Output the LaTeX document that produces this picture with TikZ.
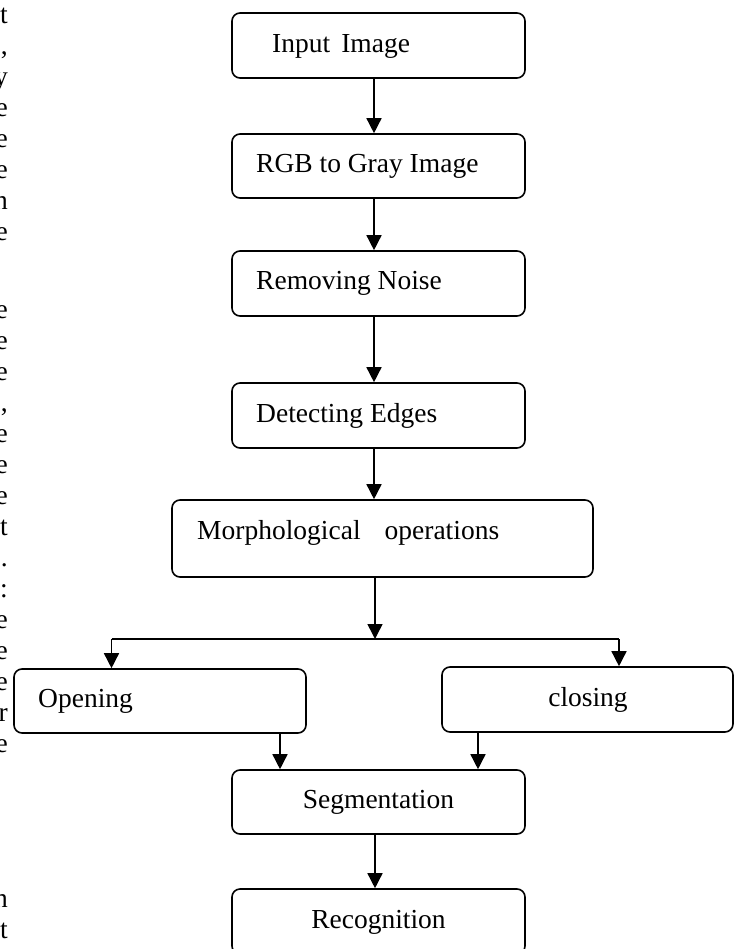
\documentclass[tikz,border=0pt]{standalone}
\usepackage{fontspec}
\setmainfont{Liberation Serif}
\usetikzlibrary{arrows.meta}
\begin{document}
\begin{tikzpicture}[x=1pt,y=-1pt,
  box/.style={draw, line width=1.6pt, rounded corners=8pt, inner sep=0pt},
  lbl/.style={font=\fontsize{27.5}{31}\selectfont, inner sep=0pt},
  arr/.style={line width=1.5pt, -{Triangle[width=15pt,length=15pt]}},
  conn/.style={line width=1.5pt},
  frag/.style={font=\fontsize{27.5}{31}\selectfont, inner sep=0pt, anchor=base east}]
\useasboundingbox (0,0) rectangle (736,949);
% boxes
\node[box, minimum width=293pt, minimum height=65pt] (inp) at (378.5,45.5) {};
\node[box, minimum width=293pt, minimum height=64pt] (rgb) at (378.5,166) {};
\node[box, minimum width=293pt, minimum height=65pt] (rem) at (378.5,283.5) {};
\node[box, minimum width=293pt, minimum height=65pt] (det) at (378.5,415.5) {};
\node[box, minimum width=421pt, minimum height=77pt] (mor) at (382.5,538.5) {};
\node[box, minimum width=292pt, minimum height=64pt] (ope) at (160,701) {};
\node[box, minimum width=291pt, minimum height=65pt] (clo) at (587.5,699.5) {};
\node[box, minimum width=293pt, minimum height=64pt] (seg) at (378.5,802) {};
\node[box, minimum width=293pt, minimum height=65pt] (rec) at (378.5,921.5) {};
% labels
\node[lbl, anchor=base west] (tinp) at (272,53) {Input\hspace{11pt}Image};
\node[lbl, anchor=base west] (trgb) at (256,173) {RGB to Gray Image};
\node[lbl, anchor=base west] (trem) at (256,289) {Removing Noise};
\node[lbl, anchor=base west] (tdet) at (256,422) {Detecting Edges};
\node[lbl, anchor=base west] (tmor) at (197,539) {Morphological\hspace{24pt}operations};
\node[lbl, anchor=base west] (tope) at (38,707) {Opening};
\node[lbl, anchor=base] (tclo) at (588,706) {closing};
\node[lbl, anchor=base] (tseg) at (378.5,808) {Segmentation};
\node[lbl, anchor=base] (trec) at (378.5,928) {Recognition};
% connector columns
\coordinate (cA) at (374,0);
\coordinate (cM) at (375,639);
\coordinate (cL) at (111.5,639);
\coordinate (cR) at (619,639);
\coordinate (c1) at (280,0);
\coordinate (c2) at (478,0);
% connectors
\draw[arr] (inp.south -| cA) -- (rgb.north -| cA);
\draw[arr] (rgb.south -| cA) -- (rem.north -| cA);
\draw[arr] (rem.south -| cA) -- (det.north -| cA);
\draw[arr] (det.south -| cA) -- (mor.north -| cA);
\draw[arr] (mor.south -| cM) -- (cM);
\draw[conn] (cL) -- (cR);
\draw[arr] (cL) -- (ope.north -| cL);
\draw[arr] (cR) -- (clo.north -| cR);
\draw[arr] (ope.south -| c1) -- (seg.north -| c1);
\draw[arr] (clo.south -| c2) -- (seg.north -| c2);
\draw[arr] (seg.south -| cM) -- (rec.north -| cM);
% cropped paragraph text at the left edge
\foreach \ch [count=\k from 0] in {t,{,},y,e,e,e,n,e}
  \node[frag] (fa\k) at (8,24+31*\k) {\ch};
\foreach \ch [count=\k from 0] in {e,e,e,{,},e,e,e,t,.,:,e,e,e,r,e}
  \node[frag] (fb\k) at (8,318+31*\k) {\ch};
\node[frag] (fc0) at (8,907) {n};
\node[frag] (fc1) at (8,938) {t};
\end{tikzpicture}
\end{document}
